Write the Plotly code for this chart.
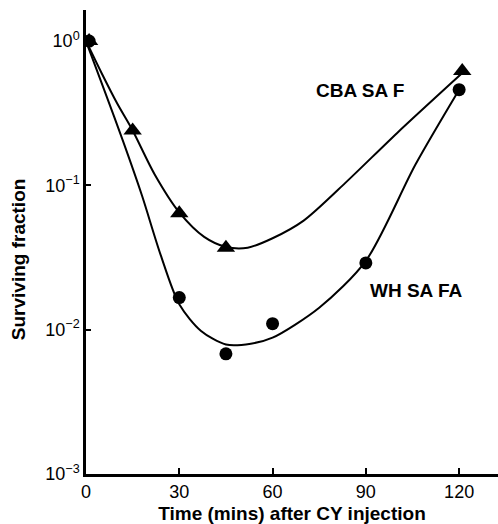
import plotly.graph_objects as go
import math

# Data points
cba_x = [1, 15, 30, 45, 121]
cba_y = [1.0, 0.24, 0.064, 0.037, 0.62]
wh_x = [1, 30, 45, 60, 90, 120]
wh_y = [1.0, 0.0167, 0.0068, 0.011, 0.029, 0.46]

# Hand-drawn fitted curves
cba_curve_x = [0, 5, 10, 15, 22, 30, 38, 45, 52, 60, 70, 84, 100, 121]
cba_curve_y = [1.0, 0.6, 0.37, 0.24, 0.12, 0.065, 0.044, 0.0375, 0.037, 0.043, 0.057, 0.107, 0.23, 0.6]
wh_curve_x = [0, 6, 12, 18, 24, 30, 37, 45, 53, 60, 75, 90, 106, 120]
wh_curve_y = [1.0, 0.45, 0.2, 0.085, 0.033, 0.015, 0.0098, 0.0079, 0.008, 0.0088, 0.0142, 0.030, 0.14, 0.46]

x_ticks = [0, 30, 60, 90, 120]
y_ticks = [1, 0.1, 0.01, 0.001]
y_tick_text = ["10<sup>0</sup>", "10<sup>\u22121</sup>", "10<sup>\u22122</sup>", "10<sup>\u22123</sup>"]

font = "Liberation Sans, Arial, sans-serif"

fig = go.Figure()
for cx, cy in [(cba_curve_x, cba_curve_y), (wh_curve_x, wh_curve_y)]:
    fig.add_trace(go.Scatter(x=cx, y=cy, mode="lines",
                             line=dict(color="black", width=2, shape="spline", smoothing=0.8),
                             hoverinfo="skip", showlegend=False))
fig.add_trace(go.Scatter(x=cba_x, y=cba_y, mode="markers", name="CBA SA F",
                         marker=dict(symbol="triangle-up", size=16, color="black"),
                         showlegend=False))
fig.add_trace(go.Scatter(x=wh_x, y=wh_y, mode="markers", name="WH SA FA",
                         marker=dict(symbol="circle", size=13, color="black"),
                         showlegend=False))

lab_font = dict(family=font, size=19, color="black", weight="bold")
fig.add_annotation(x=88, y=math.log10(0.457), text="CBA SA F", showarrow=False, font=lab_font)
fig.add_annotation(x=106, y=math.log10(0.0187), text="WH SA FA", showarrow=False, font=lab_font)
# y-axis title placed as a rotated annotation to sit as far left as the reference
fig.add_annotation(xref="paper", yref="paper", x=-0.165, y=0.463, text="Surviving fraction",
                   textangle=-90, showarrow=False, xanchor="center", yanchor="middle",
                   font=lab_font)

fig.update_layout(
    width=498, height=524,
    margin=dict(l=86, r=0, t=10, b=50),
    paper_bgcolor="white", plot_bgcolor="white",
    font=dict(family=font, size=18, color="black"),
    xaxis=dict(range=[0, 132.5], tickvals=x_ticks, ticks="inside", ticklen=6, tickwidth=2,
               tickcolor="black", showline=True, linecolor="black", linewidth=2.5,
               showgrid=False, zeroline=False,
               title=dict(text="Time (mins) after CY injection", standoff=6,
                          font=dict(family=font, size=19, weight="bold")),
               tickfont=dict(family=font, size=18)),
    yaxis=dict(type="log", range=[-3, 0.215], tickvals=y_ticks, ticktext=y_tick_text,
               ticks="inside", ticklen=5, tickwidth=2, tickcolor="black",
               showline=True, linecolor="black", linewidth=2.5,
               showgrid=False, zeroline=False,
               tickfont=dict(family=font, size=18)),
)

fig.write_html("out.html")
